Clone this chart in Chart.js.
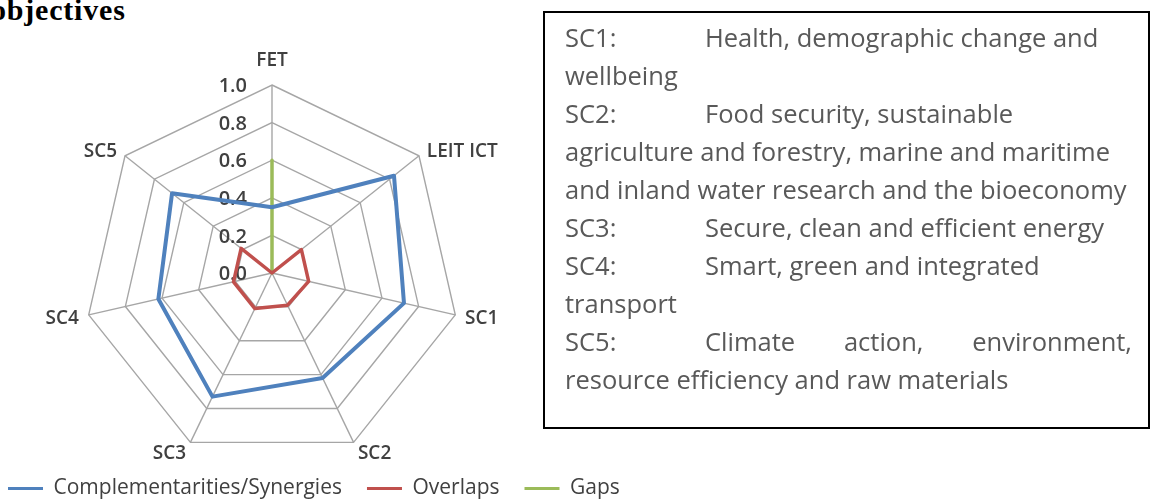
<!DOCTYPE html>
<html>
<head>
<meta charset="utf-8">
<script src="https://cdn.jsdelivr.net/npm/chart.js@4"></script>
<style>
  html, body { margin: 0; padding: 0; background: #fff; }
  body { width: 1152px; height: 504px; position: relative; overflow: hidden; }
  #title {
    position: absolute; left: -9px; top: -7px;
    font-family: "Liberation Serif", "Times New Roman", serif;
    font-weight: bold; font-size: 30px; letter-spacing: 0.8px; color: #000;
    white-space: nowrap;
  }
  #wrap { position: absolute; left: -17px; top: 0; width: 700px; height: 509px; }
  #box {
    position: absolute; left: 543px; top: 11px; width: 603px; height: 414px;
    border: 2px solid #000; box-sizing: content-box;
    font-family: "Open Sans", sans-serif; font-size: 25.5px; line-height: 38px;
    color: #595959;
  }
  #box .txt { position: absolute; left: 20px; top: 5px; width: 567px; }
  #box .ln { white-space: nowrap; height: 38px; }
  #box .tab { display: inline-block; width: 140px; }
  #box .just { display: flex; }
  #box .just .rest { flex: 1; display: flex; justify-content: space-between; }
</style>
</head>
<body>
<div id="title">objectives</div>
<div id="wrap"><canvas id="radarChart" width="700" height="509"></canvas></div>
<div id="box">
  <div class="txt">
    <div class="ln"><span class="tab">SC1:</span>Health, demographic change and</div>
    <div class="ln">wellbeing</div>
    <div class="ln"><span class="tab">SC2:</span>Food security, sustainable</div>
    <div class="ln">agriculture and forestry, marine and maritime</div>
    <div class="ln">and inland water research and the bioeconomy</div>
    <div class="ln"><span class="tab">SC3:</span>Secure, clean and efficient energy</div>
    <div class="ln"><span class="tab">SC4:</span>Smart, green and integrated</div>
    <div class="ln">transport</div>
    <div class="ln just"><span class="tab">SC5:</span><span class="rest"><span>Climate</span><span>action,</span><span>environment,</span></span></div>
    <div class="ln">resource efficiency and raw materials</div>
  </div>
</div>
<script>
const axisLabels = ['FET', 'LEIT ICT', 'SC1', 'SC2', 'SC3', 'SC4', 'SC5'];
const synergies = [0.35, 0.83, 0.72, 0.62, 0.73, 0.62, 0.68];
const overlaps = [0, 0.20, 0.20, 0.19, 0.21, 0.21, 0.21];
const gaps = [0.60, 0, 0, 0, 0, 0, 0];
const seriesNames = ['Complementarities/Synergies', 'Overlaps', 'Gaps'];

// radar placement inside the canvas (canvas is shifted 17px left)
const CX = 289, CY = 273, RADIUS = 188;

// tick labels left of the top axis and Excel-like category labels
const labelPlugin = {
    id: 'radarLabels',
    beforeDatasetsDraw(chart) {
        const scale = chart.scales.r;
        const ctx = chart.ctx;
        ctx.save();
        ctx.fillStyle = '#404040';
        ctx.font = '600 20px "Open Sans"';
        ctx.textAlign = 'right';
        ctx.textBaseline = 'middle';
        scale.ticks.forEach(t => {
            const p = scale.getPointPositionForValue(0, t.value);
            ctx.fillText(t.value.toFixed(1), p.x - 25, p.y + 1.5);
        });
        ctx.font = '600 19px "Open Sans"';
        axisLabels.forEach((lab, i) => {
            const p = scale.getPointPosition(i, scale.drawingArea + 10);
            const dx = p.x - scale.xCenter;
            if (Math.abs(dx) < 1) {
                ctx.textAlign = 'center';
                ctx.fillText(lab, p.x, p.y - 14);
            } else {
                ctx.textAlign = dx > 0 ? 'left' : 'right';
                ctx.fillText(lab, p.x, p.y + 2);
            }
        });
        ctx.restore();
    }
};

const ctx = document.getElementById('radarChart');
new Chart(ctx.getContext('2d'), {
    type: 'radar',
    data: {
        labels: axisLabels,
        datasets: [{
            label: seriesNames[0],
            data: synergies,
            borderColor: '#4F81BD',
            borderWidth: 4,
            fill: false,
            pointRadius: 0
        }, {
            label: seriesNames[1],
            data: overlaps,
            borderColor: '#C0504D',
            borderWidth: 3.5,
            fill: false,
            pointRadius: 0
        }, {
            label: seriesNames[2],
            data: gaps,
            borderColor: '#9BBB59',
            borderWidth: 3.5,
            fill: false,
            pointRadius: 0
        }]
    },
    options: {
        responsive: false,
        animation: false,
        clip: false,
        elements: { line: { tension: 0, borderJoinStyle: 'round' } },
        plugins: {
            legend: {
                position: 'bottom',
                align: 'start',
                labels: {
                    usePointStyle: true,
                    pointStyle: 'line',
                    pointStyleWidth: 35,
                    padding: 25,
                    color: '#404040',
                    font: { family: 'Open Sans', size: 21 },
                    generateLabels(chart) {
                        return chart.data.datasets.map((ds, i) => ({
                            text: ds.label,
                            strokeStyle: ds.borderColor,
                            fillStyle: ds.borderColor,
                            lineWidth: 3,
                            pointStyle: 'line',
                            fontColor: '#404040',
                            datasetIndex: i
                        }));
                    }
                }
            },
            tooltip: { enabled: false }
        },
        scales: {
            r: {
                min: 0,
                max: 1,
                ticks: { stepSize: 0.2, display: false },
                pointLabels: { display: false },
                grid: { color: '#a6a6a6', lineWidth: 1.4 },
                angleLines: { color: '#a6a6a6', lineWidth: 1.4 },
                afterFit(scale) {
                    scale.xCenter = CX;
                    scale.yCenter = CY;
                    scale.drawingArea = RADIUS;
                }
            }
        }
    },
    plugins: [labelPlugin]
});
</script>
</body>
</html>
